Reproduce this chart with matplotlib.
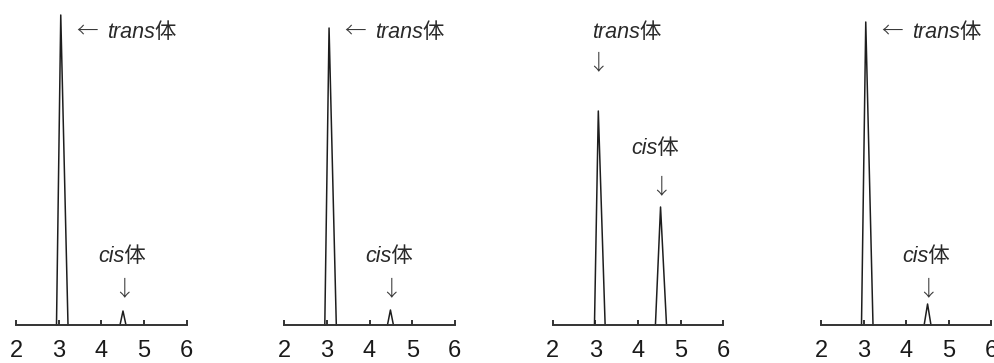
import matplotlib
matplotlib.use("Agg")
import matplotlib.pyplot as plt

# Retention times (min) and peak heights (detector response) for four runs
trans_rt = [3.05, 3.05, 3.07, 3.05]
trans_height = [310, 297, 214, 303]
cis_rt = [4.51, 4.49, 4.53, 4.50]
cis_height = [14, 15, 118, 21]

# Peak half-widths at the base (front, tail)
trans_front = [0.10, 0.10, 0.09, 0.10]
trans_tail = [0.17, 0.17, 0.16, 0.17]
cis_front = [0.07, 0.07, 0.12, 0.08]
cis_tail = [0.07, 0.07, 0.14, 0.08]

x_ticks = [2, 3, 4, 5, 6]
x_labels = ["2", "3", "4", "5", "6"]

W, H = 995, 363
fig = plt.figure(figsize=(W / 100, H / 100), dpi=100)

lefts_px = [16, 284.3, 552.7, 821]
ax_w_px = 170.5
bottom_px = 38
ax_h_px = 320

line_col = "#1e1e1e"
text_col = "#2a2a2a"
label_family = ["Liberation Sans", "Noto Sans CJK JP"]
arrow_family = ["Noto Sans CJK JP"]
fs = 15.5

for i in range(4):
    ax = fig.add_axes([lefts_px[i] / W, bottom_px / H, ax_w_px / W, ax_h_px / H])
    ax.set_xlim(2, 6)
    ax.set_ylim(0, 320)
    for s in ("left", "right", "top"):
        ax.spines[s].set_visible(False)
    ax.spines["bottom"].set_linewidth(1.4)
    ax.spines["bottom"].set_color("#333333")
    ax.set_yticks([])
    ax.set_xticks(x_ticks)
    ax.set_xticklabels(x_labels, fontsize=17, family="Liberation Sans", color="#1a1a1a")
    ax.tick_params(axis="x", direction="in", length=3.5, width=1.4, color="#333333", pad=11)
    ax.patch.set_alpha(0)

    # trans peak
    ax.plot([trans_rt[i] - trans_front[i], trans_rt[i], trans_rt[i] + trans_tail[i]],
            [0, trans_height[i], 0], color=line_col, lw=1.1, clip_on=False)
    # cis peak
    ax.plot([cis_rt[i] - cis_front[i], cis_rt[i], cis_rt[i] + cis_tail[i]],
            [0, cis_height[i], 0], color=line_col, lw=1.1, clip_on=False)

    arrow_kw = dict(fontsize=fs, family=arrow_family, fontweight="light",
                    color="#3a3a3a", ha="center", va="center")
    if i != 2:
        # label to the right of the tall trans peak
        ax.text(trans_rt[i] + 0.36, 293, "←", **{**arrow_kw, "ha": "left"})
        ax.text(trans_rt[i] + 1.08, 293, "trans体", fontsize=fs, family=label_family,
                style="italic", color=text_col, ha="left", va="center")
        ax.text(cis_rt[i] - 0.03, 68, "cis体", fontsize=fs, family=label_family,
                style="italic", color=text_col, ha="center", va="center")
        ax.text(cis_rt[i] + 0.01, 36, "↓", **arrow_kw)
    else:
        ax.text(trans_rt[i] - 0.14, 293, "trans体", fontsize=fs, family=label_family,
                style="italic", color=text_col, ha="left", va="center")
        ax.text(trans_rt[i], 262, "↓", **arrow_kw)
        ax.text(cis_rt[i] - 0.68, 177, "cis体", fontsize=fs, family=label_family,
                style="italic", color=text_col, ha="left", va="center")
        ax.text(cis_rt[i], 138, "↓", **arrow_kw)

fig.savefig("out.png", dpi=100)
